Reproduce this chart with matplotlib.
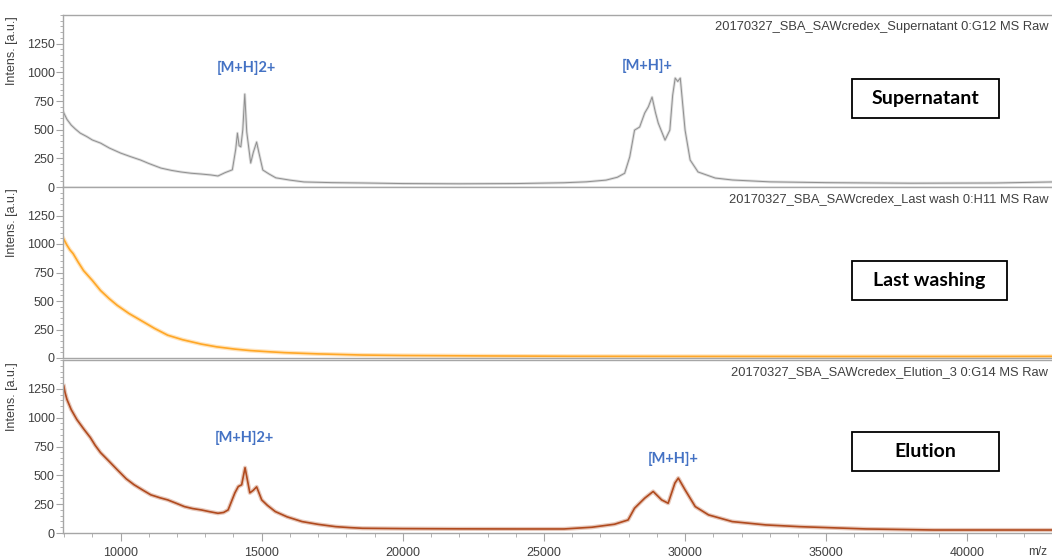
import matplotlib
matplotlib.use("Agg")
import matplotlib.pyplot as plt
from matplotlib.ticker import MultipleLocator
from matplotlib.patches import Rectangle

plt.rcParams['font.family'] = ['Liberation Sans', 'DejaVu Sans']

# spectra (m/z, intensity)
mz_sup = [7980, 8100, 8250, 8400, 8570, 8800, 9000, 9290, 9600, 10000, 10350, 10710,
          11000, 11430, 11800, 12140, 12500, 12860, 13200, 13450, 13700, 13960,
          14080, 14140, 14200, 14260, 14330, 14400, 14470, 14610, 14700, 14820, 14900, 15040,
          15250, 15500, 16000, 16500, 17500, 18600, 20000, 22000, 24000, 25700, 26500, 27200,
          27600, 27860, 28040, 28210, 28390, 28570, 28700, 28830, 28950, 29050, 29290, 29460,
          29560, 29650, 29740, 29830, 30000, 30180, 30460, 31070, 31680, 33000, 35000, 38000,
          41000, 43000]
int_sup = [650, 590, 540, 505, 470, 440, 410, 383, 340, 296, 265, 235,
           205, 165, 145, 131, 120, 113, 105, 96, 125, 150,
           330, 470, 360, 350, 500, 810, 480, 209, 300, 392, 300, 148,
           115, 80, 60, 44, 38, 35, 30, 28, 30, 37, 45, 60,
           85, 120, 263, 496, 523, 645, 700, 784, 650, 557, 409, 496,
           800, 950, 920, 950, 496, 235, 131, 78, 61, 45, 38, 33,
           35, 44]

mz_wash = [7980, 8100, 8200, 8320, 8500, 8690, 9000, 9290, 9600, 9880, 10300, 10710,
           11200, 11670, 12200, 12860, 13400, 14050, 14600, 15240, 15800, 16430, 17000, 17620,
           18570, 20000, 23000, 26000, 30000, 35000, 40000, 43000]
int_wash = [1045, 990, 950, 915, 840, 766, 680, 592, 520, 462, 390, 331,
            260, 200, 160, 122, 98, 78, 65, 55, 47, 41, 36, 32,
            26, 22, 18, 15, 14, 13, 13, 14]

mz_elu = [7990, 8030, 8100, 8250, 8450, 8700, 8930, 9100, 9290, 9600, 9880, 10200,
          10480, 10800, 11070, 11400, 11670, 12000, 12260, 12550, 12860, 13150, 13450, 13650,
          13810, 14050, 14170, 14290, 14410, 14500, 14580, 14700, 14820, 15000, 15200, 15480,
          15900, 16430, 17000, 17620, 18100, 18570, 20000, 22000, 24000, 25710, 26700, 27500,
          27980, 28210, 28570, 28870, 29170, 29400, 29640, 29760, 30000, 30360, 30830, 31670,
          32860, 34050, 36430, 38810, 41000, 43000]
int_elu = [1274, 1220, 1158, 1070, 984, 900, 827, 760, 697, 620, 549, 470,
           418, 370, 331, 305, 287, 255, 229, 212, 200, 185, 171, 178,
           200, 348, 403, 418, 566, 450, 348, 370, 400, 287, 240, 186,
           140, 99, 75, 55, 47, 41, 38, 36, 35, 35, 50, 76,
           113, 215, 302, 360, 287, 258, 433, 476, 374, 229, 157, 99,
           70, 55, 35, 26, 26, 26]

titles = ["20170327_SBA_SAWcredex_Supernatant 0:G12 MS Raw",
          "20170327_SBA_SAWcredex_Last wash 0:H11 MS Raw",
          "20170327_SBA_SAWcredex_Elution_3 0:G14 MS Raw"]
box_labels = ["Supernatant", "Last washing", "Elution"]
colors = ["#8f8f8f", "#ffa726", "#b04a1e"]

W, H = 1052, 558
fig = plt.figure(figsize=(W / 100, H / 100), dpi=100)

# panel extents in pixels (top, bottom)
panels = [(15, 187), (187, 358), (360, 533)]
left, right = 63, 1052
axes = []
for top, bot in panels:
    ax = fig.add_axes([left / W, 1 - bot / H, (right - left) / W, (bot - top) / H])
    axes.append(ax)

series = [(mz_sup, int_sup), (mz_wash, int_wash), (mz_elu, int_elu)]
spine_col = "#a6a6a6"
for i, ax in enumerate(axes):
    x, y = series[i]
    # soft band under the trace to mimic the raw-signal fuzz
    band = 2.0 if i == 0 else 3.0
    ax.plot(x, y, color=colors[i], lw=band, alpha=0.3, solid_joinstyle='round')
    ax.plot(x, y, color=colors[i], lw=0.7 if i == 0 else 1.2)
    ax.set_xlim(7960, 43000)
    ax.set_ylim(0, 1500)
    ax.yaxis.set_minor_locator(MultipleLocator(50))
    ax.set_yticks([0, 250, 500, 750, 1000, 1250])
    ax.xaxis.set_major_locator(MultipleLocator(5000))
    ax.xaxis.set_minor_locator(MultipleLocator(1000))
    for s in ['left', 'bottom', 'top']:
        ax.spines[s].set_color(spine_col)
        ax.spines[s].set_linewidth(1.0)
    ax.spines['right'].set_visible(False)
    ax.tick_params(axis='y', which='major', length=5, color=spine_col,
                   labelsize=9, labelcolor="#404040", pad=1)
    ax.tick_params(axis='y', which='minor', length=2.5, color=spine_col)
    if i < 2:
        ax.tick_params(axis='x', which='both', bottom=False, labelbottom=False)
    else:
        ax.tick_params(axis='x', which='major', length=6, color=spine_col,
                       labelsize=9, labelcolor="#404040", pad=4)
        ax.tick_params(axis='x', which='minor', length=3, color=spine_col)
    ax.set_ylabel("Intens. [a.u.]", fontsize=9, color="#404040")
    ax.yaxis.set_label_coords(-0.0455, 0.79)
    ax.text(0.996, 0.928, titles[i], transform=ax.transAxes, ha='right', va='center',
            fontsize=9.3, color="#404040")

blue = "#4472c4"
ann = dict(fontsize=10.5, fontweight='bold', color=blue, family=['Lato', 'DejaVu Sans'],
           ha='center', va='center')
axes[0].text(14464, 1036, "[M+H]2+", **ann)
axes[0].text(28643, 1054, "[M+H]+", **ann)
axes[2].text(14393, 827, "[M+H]2+", **ann)
axes[2].text(29571, 645, "[M+H]+", **ann)

# label boxes (pixels: x0, x1, y0, y1)
boxes = [(852, 999, 79, 118), (852, 1007, 261, 300), (852, 999, 432, 471)]
for (x0, x1, y0, y1), lab in zip(boxes, box_labels):
    fig.patches.append(Rectangle((x0 / W, 1 - y1 / H), (x1 - x0) / W, (y1 - y0) / H,
                                 transform=fig.transFigure, fill=True, fc='white',
                                 ec='black', lw=1.3))
    fig.text((x0 + x1) / 2 / W, 1 - (y0 + y1) / 2 / H, lab, ha='center', va='center',
             fontsize=14, fontweight='bold', family=['Lato', 'DejaVu Sans'])

fig.text(1038 / W, 1 - 546 / H, "m/z", ha='center', va='top', fontsize=8.5, color="#404040")

fig.savefig("out.png", dpi=100, facecolor='white')
